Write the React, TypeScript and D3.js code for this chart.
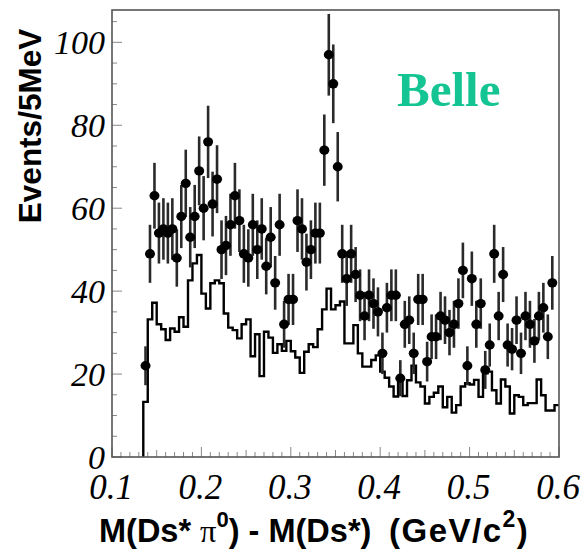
import React from "react";
import * as d3 from "d3";

// Data points (bin centres, Events/5MeV)
const pointX: number[] = [
  0.1375, 0.1425, 0.1475, 0.1525, 0.1575, 0.1625, 0.1675, 0.1725, 0.1775, 0.1825,
  0.1875, 0.1925, 0.1975, 0.2025, 0.2075, 0.2125, 0.2175, 0.2225, 0.2275, 0.2325,
  0.2375, 0.2425, 0.2475, 0.2525, 0.2575, 0.2625, 0.2675, 0.2725, 0.2775, 0.2825,
  0.2875, 0.2925, 0.2975, 0.3025, 0.3075, 0.3125, 0.3175, 0.3225, 0.3275, 0.3325,
  0.3375, 0.3425, 0.3475, 0.3525, 0.3575, 0.3625, 0.3675, 0.3725, 0.3775, 0.3825,
  0.3875, 0.3925, 0.3975, 0.4025, 0.4075, 0.4125, 0.4175, 0.4225, 0.4275, 0.4325,
  0.4375, 0.4425, 0.4475, 0.4525, 0.4575, 0.4625, 0.4675, 0.4725, 0.4775, 0.4825,
  0.4875, 0.4925, 0.4975, 0.5025, 0.5075, 0.5125, 0.5175, 0.5225, 0.5275, 0.5325,
  0.5375, 0.5425, 0.5475, 0.5525, 0.5575, 0.5625, 0.5675, 0.5725, 0.5775, 0.5825,
  0.5875, 0.5925,
];
const pointY: number[] = [
  22, 49, 63, 54, 55, 54, 55, 48, 58, 66,
  53, 58, 69, 60, 76, 61, 67, 50, 51, 56,
  63, 57, 49, 48, 56, 50, 55, 46, 53, 42,
  56, 32, 38, 38, 57, 55, 47, 50, 54, 54,
  74, 97, 90, 70, 49, 43, 49, 44, 39, 34,
  39, 37, 35, 25, 36, 39, 39, 19, 32, 33,
  25, 38, 38, 23, 29, 29, 34, 33, 30, 32,
  37, 45, 22, 43, 32, 37, 21, 27, 49, 34,
  44, 27, 26, 33, 25, 34, 32, 28, 34, 36,
  29, 42,
];

// Histogram (background) – bin lower edges and contents
const histEdges: number[] = [
  0.135, 0.14, 0.145, 0.15, 0.155, 0.16, 0.165, 0.17, 0.175, 0.18,
  0.185, 0.19, 0.195, 0.2, 0.205, 0.21, 0.215, 0.22, 0.225, 0.23,
  0.235, 0.24, 0.245, 0.25, 0.255, 0.26, 0.265, 0.27, 0.275, 0.28,
  0.285, 0.29, 0.295, 0.3, 0.305, 0.31, 0.315, 0.32, 0.325, 0.33,
  0.335, 0.34, 0.345, 0.35, 0.355, 0.36, 0.365, 0.37, 0.375, 0.38,
  0.385, 0.39, 0.395, 0.4, 0.405, 0.41, 0.415, 0.42, 0.425, 0.43,
  0.435, 0.44, 0.445, 0.45, 0.455, 0.46, 0.465, 0.47, 0.475, 0.48,
  0.485, 0.49, 0.495, 0.5, 0.505, 0.51, 0.515, 0.52, 0.525, 0.53,
  0.535, 0.54, 0.545, 0.55, 0.555, 0.56, 0.565, 0.57, 0.575, 0.58,
  0.585, 0.59, 0.595,
];
const histValues: number[] = [
  13.3, 33.2, 37.2, 32, 30.8, 28.2, 31, 30.2, 33.7, 31.4,
  42.6, 46.7, 48.7, 39.4, 35.8, 41.9, 42.6, 41.9, 34.6, 31.2,
  30.6, 28.6, 32, 33.2, 24.3, 29.6, 19.5, 30.2, 28.8, 25.1,
  27.2, 25.6, 28, 25.5, 24, 20.3, 25.4, 27.2, 26.5, 30.8,
  35.6, 40.6, 35.6, 36.6, 37.5, 27.4, 27.4, 31.8, 25, 21.8,
  21.8, 23.4, 24.5, 20.6, 19.1, 17, 14.6, 18.3, 14.7, 18.5,
  22, 18, 17, 12.9, 14.5, 15.5, 17, 12, 14.5, 10.7,
  12.5, 17, 17.8, 17.5, 18.6, 14.5, 20.2, 20.6, 16.1, 12.9,
  18.7, 17, 10.5, 14.9, 14.5, 12.5, 13, 13, 18.7, 14.9,
  11.2, 11.2, 12.5,
];

const xTickLabels: string[] = ["0.1", "0.2", "0.3", "0.4", "0.5", "0.6"];
const yTickLabels: string[] = ["0", "20", "40", "60", "80", "100"];

const BIN = 0.005;

export default function App() {
  const W = 588;
  const H = 554;
  const left = 112, right = 559, top = 10, bottom = 457;
  const x = d3.scaleLinear().domain([0.1, 0.6]).range([left, right]);
  const y = d3.scaleLinear().domain([0, 107.8]).range([bottom, top]);

  const stepPts: [number, number][] = [[histEdges[0], 0]];
  histEdges.forEach((e, i) => stepPts.push([e, histValues[i]]));
  stepPts.push([histEdges[histEdges.length - 1] + BIN, histValues[histValues.length - 1]]);
  const line = d3
    .line<[number, number]>()
    .x((d) => x(d[0]))
    .y((d) => y(d[1]))
    .curve(d3.curveStepAfter);
  const histPath = line(stepPts) || "";

  const xMinor = d3.range(0, 51).map((i) => 0.1 + i * 0.01);
  const yMinor = d3.range(0, 22).map((i) => i * 5);

  const serif = "'Liberation Serif', 'Times New Roman', serif";
  const sans = "'Liberation Sans', Arial, Helvetica, sans-serif";

  return (
    <svg
      width={W}
      height={H}
      style={{ position: "absolute", left: 0, top: 0, background: "#fff" }}
    >
      <rect x={0} y={0} width={W} height={H} fill="#fff" />
      <defs>
        <clipPath id="plotclip">
          <rect x={left} y={top} width={right - left} height={bottom - top} />
        </clipPath>
      </defs>

      {xMinor.map((v, i) => {
        const len = i % 10 === 0 ? 10 : i % 5 === 0 ? 7 : 5;
        return (
          <line
            key={"xt" + i}
            x1={x(v)}
            x2={x(v)}
            y1={bottom}
            y2={bottom - len}
            stroke="#888"
            strokeWidth={1}
          />
        );
      })}
      {yMinor.map((v, i) => {
        const len = i % 4 === 0 ? 10 : 5;
        return (
          <line
            key={"yt" + i}
            x1={left}
            x2={left + len}
            y1={y(v)}
            y2={y(v)}
            stroke="#888"
            strokeWidth={1}
          />
        );
      })}

      <g clipPath="url(#plotclip)">
        <path d={histPath} fill="none" stroke="#000" strokeWidth={2.4} />
        {pointX.map((px, i) => {
          const v = pointY[i];
          const err = Math.sqrt(v);
          return (
            <line
              key={"e" + i}
              x1={x(px)}
              x2={x(px)}
              y1={y(v - err)}
              y2={y(v + err)}
              stroke="#2a2a2a"
              strokeWidth={2.6}
            />
          );
        })}
        {pointX.map((px, i) => (
          <ellipse
            key={"p" + i}
            cx={x(px)}
            cy={y(pointY[i])}
            rx={5}
            ry={4.7}
            fill="#000"
          />
        ))}
      </g>

      <rect
        x={left}
        y={top}
        width={right - left}
        height={bottom - top}
        fill="none"
        stroke="#555"
        strokeWidth={1.6}
      />

      {yTickLabels.map((t) => (
        <text
          key={"yl" + t}
          x={left - 7}
          y={y(+t) + 12}
          textAnchor="end"
          fontFamily={serif}
          fontStyle="italic"
          fontSize={34}
          fill="#000"
        >
          {t}
        </text>
      ))}
      {xTickLabels.map((t) => (
        <text
          key={"xl" + t}
          x={x(+t) - 1}
          y={499}
          textAnchor="middle"
          fontFamily={serif}
          fontStyle="italic"
          fontSize={35}
          fill="#000"
        >
          {t}
        </text>
      ))}

      <text x={99} y={542} fontFamily={sans} fontWeight="bold" fontSize={32.5} fill="#000">
        M(Ds*
        <tspan fontFamily={serif} fontWeight="normal" dx={9}>π</tspan>
        <tspan fontSize={22} dy={-15}>0</tspan>
        <tspan dy={15}>) - M(Ds*)</tspan>
      </text>
      <text x={389} y={542} fontFamily={sans} fontWeight="bold" fontSize={33} letterSpacing={1.5} fill="#000">
        (GeV/c<tspan fontSize={23} dy={-15}>2</tspan>
        <tspan dy={15}>)</tspan>
      </text>
      <text
        transform="translate(41,126) rotate(-90)"
        textAnchor="middle"
        fontFamily={sans}
        fontWeight="bold"
        fontSize={31.5}
        fill="#000"
      >
        Events/5MeV
      </text>

      <text
        x={397}
        y={106}
        fontFamily={serif}
        fontWeight="bold"
        fontSize={49}
        fill="#14c493"
      >
        Belle
      </text>
    </svg>
  );
}
